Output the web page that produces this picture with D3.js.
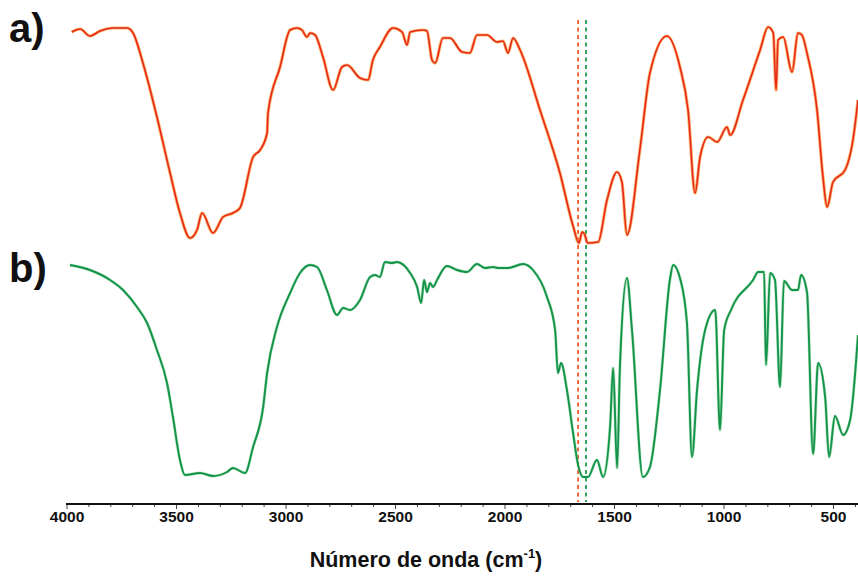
<!DOCTYPE html>
<html>
<head>
<meta charset="utf-8">
<script src="https://cdn.jsdelivr.net/npm/d3@7"></script>
<style>
  html, body { margin: 0; padding: 0; background: #fff; }
  svg { display: block; }
  text { font-family: "Liberation Sans", Arial, sans-serif; }
</style>
</head>
<body>
<svg id="chart" width="858" height="577"></svg>
<script>
// ---- data (wavenumber cm-1, transmittance in arbitrary units) ----
const wavenumbersA = [3976,3938,3893,3847,3788,3724,3696,3651,3587,3527,3482,3436,3404,3381,3331,3285,3240,3208,3148,3116,3084,3080,3025,2979,2947,2925,2902,2888,2865,2829,2783,2742,2719,2660,2623,2601,2569,2509,2468,2445,2431,2372,2354,2331,2317,2281,2249,2194,2158,2126,2080,2034,2007,1984,1961,1929,1838,1747,1687,1660,1646,1635,1620,1573,1532,1486,1464,1441,1382,1336,1258,1199,1162,1130,1107,1070,1029,984,970,911,833,796,773,760,751,728,687,660,642,619,573,546,527,500,445,409,386];
const transA = [218,221,214,219,222,222,217,187,133,77,37,12,20,37,17,33,37,42,93,100,117,137,183,220,222,220,213,217,215,193,160,183,185,172,170,190,203,222,218,205,218,220,219,190,187,212,212,198,197,215,215,208,209,197,212,200,140,77,24,7,18,16,7,8,50,78,68,15,100,177,214,183,140,57,93,113,108,123,115,150,200,223,217,160,210,213,178,217,215,197,140,73,43,68,80,110,150];

const wavenumbersB = [3984,3893,3801,3742,3678,3632,3587,3541,3514,3482,3459,3390,3331,3267,3240,3185,3148,3102,3084,3039,2979,2934,2888,2856,2811,2765,2737,2705,2660,2614,2591,2569,2546,2514,2491,2431,2399,2381,2367,2354,2340,2326,2308,2263,2217,2171,2126,2089,2052,2029,1984,1915,1870,1806,1769,1756,1742,1715,1687,1664,1641,1619,1578,1550,1518,1504,1486,1473,1441,1418,1368,1336,1290,1245,1230,1199,1167,1144,1121,1084,1038,1016,997,966,865,842,815,806,787,765,742,724,687,660,646,619,591,568,536,518,491,454,422,386];
const transB = [225,220,210,200,183,167,140,107,73,30,15,17,14,18,22,17,43,83,117,163,197,217,225,223,200,175,182,180,190,213,215,213,228,227,228,217,203,187,210,198,207,203,210,224,220,218,226,222,223,222,222,226,220,193,160,117,127,100,57,25,13,13,30,13,63,122,22,123,212,160,13,23,100,210,225,212,167,33,100,160,180,60,160,180,210,218,218,125,217,210,103,209,200,200,215,198,36,127,93,33,74,55,70,155];

const markerWavenumbers = [1664, 1628];
const xTickValues = [4000, 3500, 3000, 2500, 2000, 1500, 1000, 500];
const panelLabels = ["a)", "b)"];
const xTitle = "Número de onda (cm";

// ---- scales ----
const svg = d3.select("#chart");
const x = d3.scaleLinear().domain([4000, 386]).range([66.5, 858]);
const yA = d3.scaleLinear().domain([0, 250]).range([250, 0]);
const yB = d3.scaleLinear().domain([0, 250]).range([490, 240]);

const dataA = wavenumbersA.map((w, i) => ({ w, t: transA[i] }));
const dataB = wavenumbersB.map((w, i) => ({ w, t: transB[i] }));

// ---- dashed marker lines ----
const markerColors = ["#ee5a2a", "#1f9a4a"];
svg.selectAll("line.marker").data(markerWavenumbers).join("line")
  .attr("class", "marker")
  .attr("x1", d => x(d)).attr("x2", d => x(d))
  .attr("y1", 20).attr("y2", 502)
  .attr("stroke", (d, i) => markerColors[i])
  .attr("stroke-width", 1.8)
  .attr("stroke-dasharray", "4,3.5");

// ---- spectra ----
const lineA = d3.line().x(d => x(d.w)).y(d => yA(d.t)).curve(d3.curveMonotoneX);
const lineB = d3.line().x(d => x(d.w)).y(d => yB(d.t)).curve(d3.curveMonotoneX);

svg.append("path").datum(dataA).attr("d", lineA)
  .attr("fill", "none").attr("stroke", "#f7a040").attr("stroke-width", 3.2)
  .attr("stroke-linejoin", "round").attr("opacity", 0.8);
svg.append("path").datum(dataA).attr("d", lineA)
  .attr("fill", "none").attr("stroke", "#e8281e").attr("stroke-width", 1.6)
  .attr("stroke-linejoin", "round");

svg.append("path").datum(dataB).attr("d", lineB)
  .attr("fill", "none").attr("stroke", "#5cc070").attr("stroke-width", 3)
  .attr("stroke-linejoin", "round").attr("opacity", 0.45);
svg.append("path").datum(dataB).attr("d", lineB)
  .attr("fill", "none").attr("stroke", "#14944a").attr("stroke-width", 1.9)
  .attr("stroke-linejoin", "round");

// ---- x axis ----
const axisY = 504;
const axis = d3.axisBottom(x)
  .tickValues(d3.range(4000, 385, -100))
  .tickSize(3)
  .tickFormat(d => xTickValues.includes(d) ? d : "");
const gAxis = svg.append("g").attr("transform", `translate(0,${axisY})`).call(axis);
gAxis.select(".domain").remove();
gAxis.append("line").attr("x1", 66).attr("x2", 858).attr("y1", 0).attr("y2", 0)
  .attr("stroke", "#111").attr("stroke-width", 2);
gAxis.selectAll(".tick line").attr("stroke", "#444").attr("stroke-width", 1)
  .attr("y2", d => xTickValues.includes(d) ? 5 : 3);
gAxis.selectAll(".tick text")
  .attr("y", 7).attr("dy", "0.71em")
  .style("font-family", "'Liberation Sans', Arial, sans-serif")
  .style("font-size", "15.5px").style("font-weight", "bold").attr("fill", "#111");

// ---- titles / panel labels ----
const title = svg.append("text").attr("x", 426).attr("y", 567)
  .attr("text-anchor", "middle")
  .style("font-size", "21.5px").style("font-weight", "bold").attr("fill", "#111");
title.append("tspan").text(xTitle);
title.append("tspan").text("-1").attr("dy", -9).style("font-size", "13px");
title.append("tspan").text(")").attr("dy", 9);

svg.selectAll("text.panel").data(panelLabels).join("text")
  .attr("class", "panel")
  .attr("x", 9).attr("y", (d, i) => i === 0 ? 42 : 282)
  .style("font-size", "40px").style("font-weight", "bold").attr("fill", "#111")
  .text(d => d);
</script>
</body>
</html>
